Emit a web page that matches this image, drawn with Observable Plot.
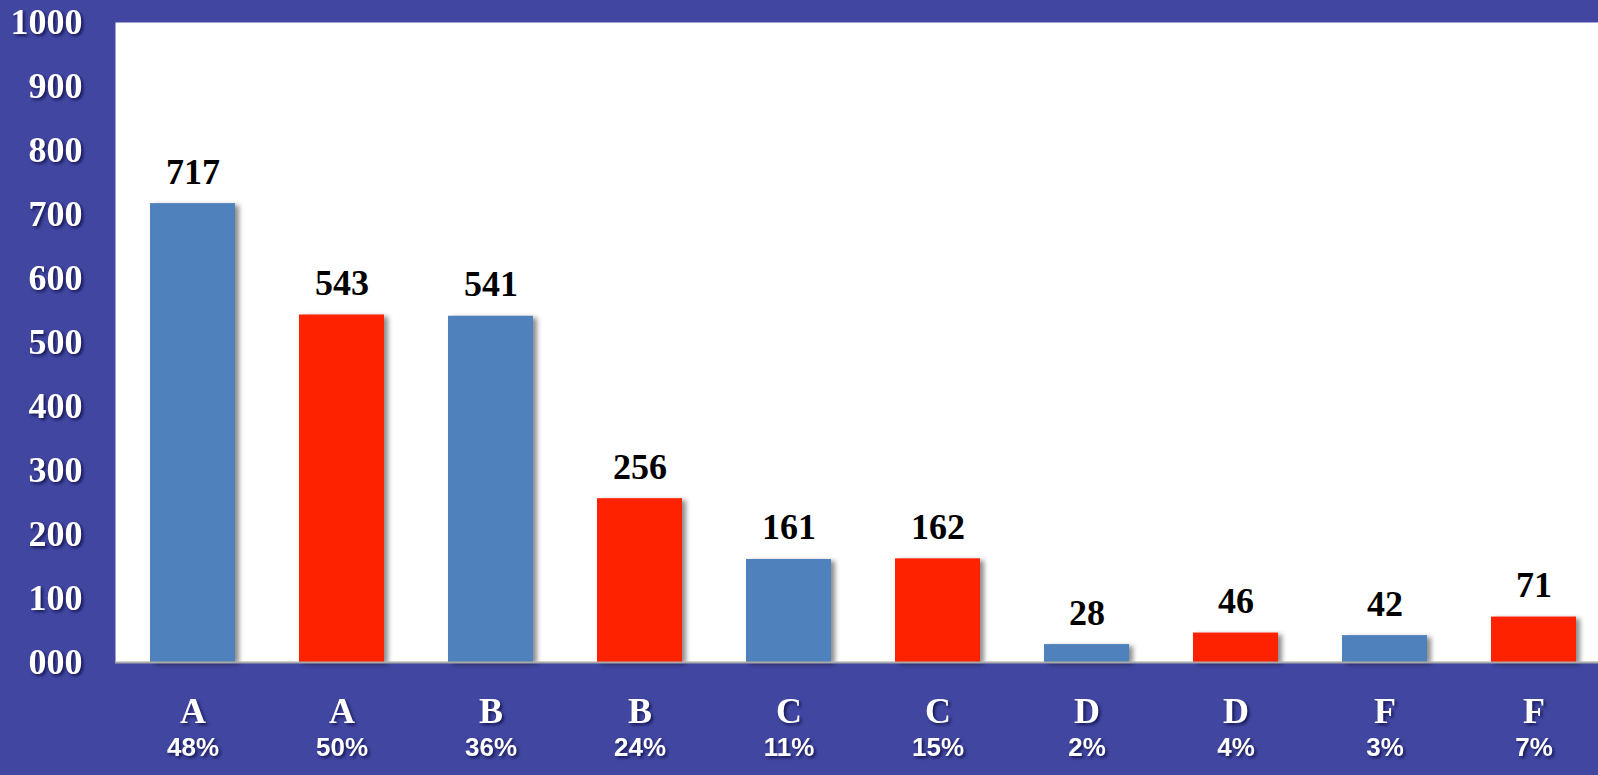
<!DOCTYPE html>
<html>
<head>
<meta charset="utf-8">
<script src="https://cdn.jsdelivr.net/npm/d3@7"></script>
<script src="https://cdn.jsdelivr.net/npm/@observablehq/plot@0.6"></script>
<style>
  html, body { margin: 0; padding: 0; background: #4146a0; overflow: hidden; }
  #chart { width: 1598px; height: 775px; overflow: hidden; position: relative; }
  #chart svg { display: block; max-width: none !important; }
  .bars rect { filter: drop-shadow(4px 2px 2.5px rgba(0,0,0,0.45)); }
  .wtxt text, g[aria-label="y-axis tick label"] text { filter: drop-shadow(2px 2px 1.5px rgba(10,10,60,0.75)); }
</style>
</head>
<body>
<div id="chart"></div>
<script>
// ---- data ----
const categories = ["A", "A", "B", "B", "C", "C", "D", "D", "F", "F"];
const values = [717, 543, 541, 256, 161, 162, 28, 46, 42, 71];
const percents = ["48%", "50%", "36%", "24%", "11%", "15%", "2%", "4%", "3%", "7%"];
const series = ["first", "second", "first", "second", "first", "second", "first", "second", "first", "second"];
const seriesNames = ["first", "second"];
const seriesColors = ["#4f81bd", "#ff2200"];
const yTicks = [0, 100, 200, 300, 400, 500, 600, 700, 800, 900, 1000];

const data = values.map((v, i) => ({
  i, cat: categories[i], value: v, pct: percents[i], series: series[i]
}));

const serif = "'Liberation Serif', 'Times New Roman', serif";
const sans = "'Liberation Sans', Arial, sans-serif";

const chart = Plot.plot({
  width: 1610,
  height: 775,
  marginLeft: 115,
  marginRight: 0,
  marginTop: 22,
  marginBottom: 113,
  style: { background: "transparent", overflow: "visible", maxWidth: "none" },
  x: { type: "band", domain: d3.range(values.length), paddingInner: 0.43, paddingOuter: 0.215, axis: null },
  y: { domain: [0, 1000], axis: null, label: null },
  color: { domain: seriesNames, range: seriesColors },
  marks: [
    Plot.frame({ fill: "white", stroke: null }),
    Plot.barY(data, { x: "i", y: "value", fill: "series", className: "bars" }),
    Plot.ruleY([0], { stroke: "#a9a9a9", strokeWidth: 2 }),
    Plot.text(data, {
      x: "i", y: "value", text: d => String(d.value),
      lineAnchor: "bottom", dy: -20,
      fontSize: 36, fontWeight: "bold", fontFamily: serif, fill: "black"
    }),
    Plot.axisY({
      ticks: yTicks,
      tickFormat: d => String(d).padStart(3, "0"),
      tickSize: 0, tickPadding: 33, label: null,
      fontSize: 36, fontWeight: "bold", fontFamily: serif,
      fill: "white", color: "white"
    }),
    Plot.text(data, {
      x: "i", frameAnchor: "bottom", text: "cat",
      lineAnchor: "bottom", dy: 60,
      fontSize: 36, fontWeight: "bold", fontFamily: serif, fill: "white",
      className: "wtxt"
    }),
    Plot.text(data, {
      x: "i", frameAnchor: "bottom", text: "pct",
      lineAnchor: "bottom", dy: 93,
      fontSize: 26, fontWeight: "bold", fontFamily: sans, fill: "white",
      className: "wtxt"
    })
  ]
});

document.getElementById("chart").appendChild(chart);
</script>
</body>
</html>
